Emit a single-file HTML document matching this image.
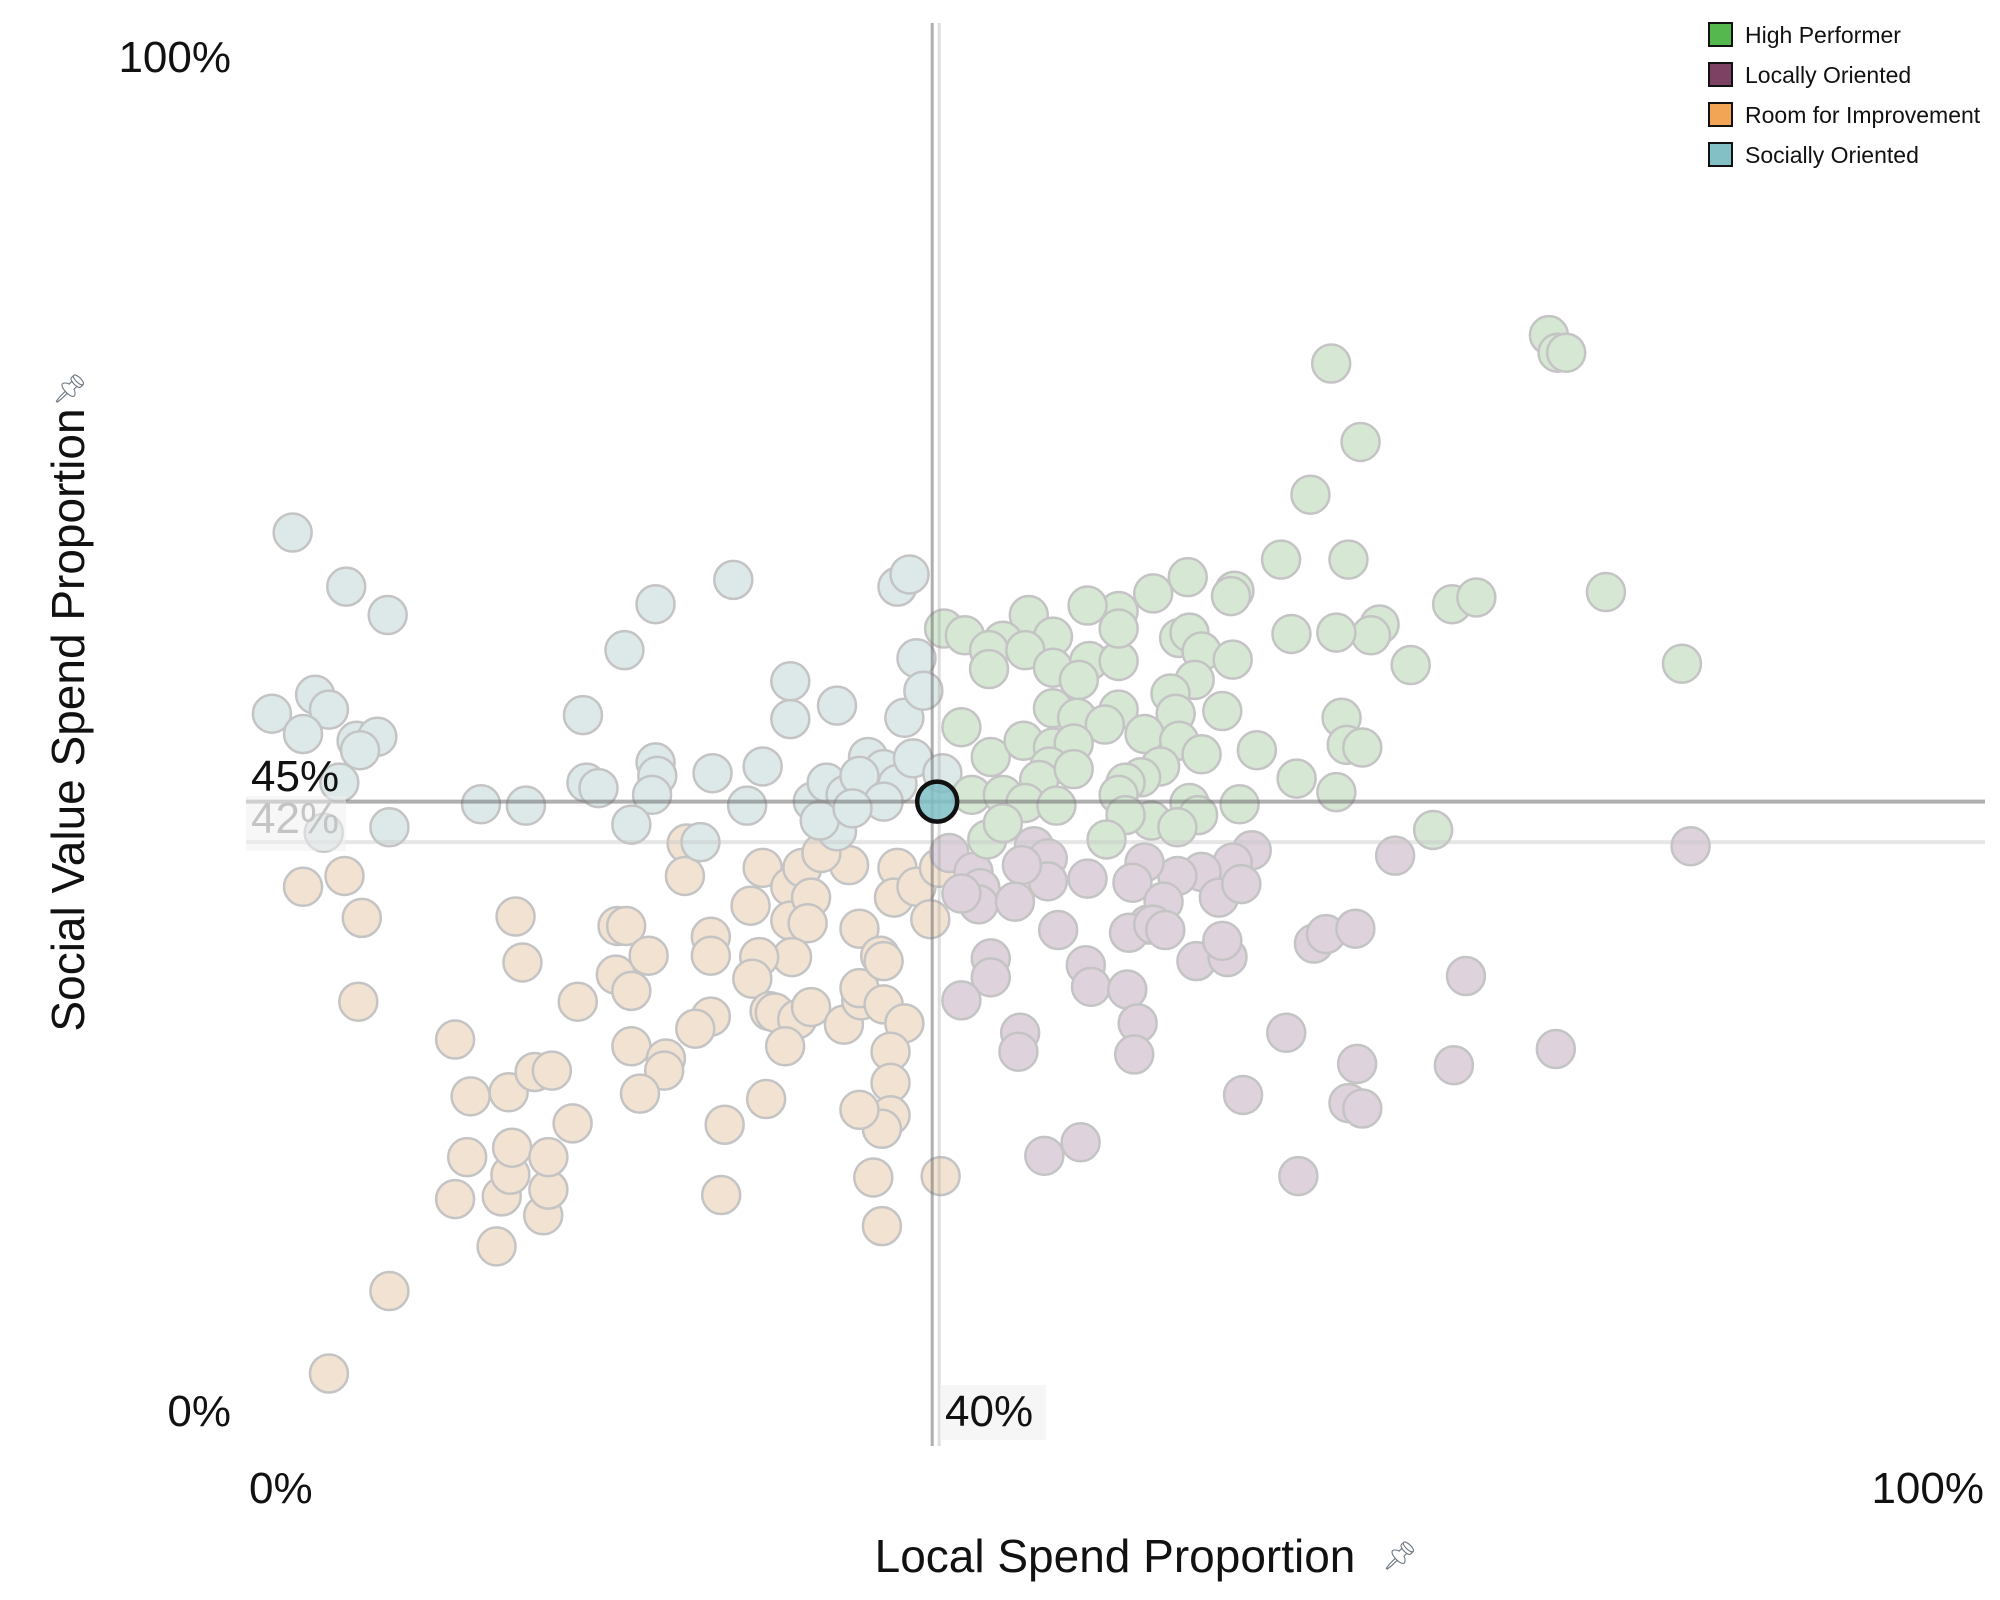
<!DOCTYPE html>
<html><head><meta charset="utf-8"><style>
html,body{margin:0;padding:0;background:#fff;}
svg{display:block;font-family:"Liberation Sans",sans-serif;}
</style></head><body>
<svg id="chart" width="2000" height="1600" viewBox="0 0 2000 1600" xmlns="http://www.w3.org/2000/svg">
<g id="points"></g>
<g id="refs"></g>
<g id="labels"></g>
<g>
  <rect x="1709" y="23" width="23" height="23" fill="#55b84f" stroke="#111" stroke-width="2"/>
  <text x="1745" y="43" font-size="23" fill="#111">High Performer</text>
  <rect x="1709" y="63" width="23" height="23" fill="#7c4163" stroke="#111" stroke-width="2"/>
  <text x="1745" y="83" font-size="23" fill="#111">Locally Oriented</text>
  <rect x="1709" y="103" width="23" height="23" fill="#f2a555" stroke="#111" stroke-width="2"/>
  <text x="1745" y="123" font-size="23" fill="#111">Room for Improvement</text>
  <rect x="1709" y="143" width="23" height="23" fill="#82c0c6" stroke="#111" stroke-width="2"/>
  <text x="1745" y="163" font-size="23" fill="#111">Socially Oriented</text>
</g>
<text x="1115" y="1572" font-size="46" text-anchor="middle" fill="#111">Local Spend Proportion</text>
<text x="1382" y="1565" font-size="28" fill="#6b7580">&#x1F4CC;&#xFE0E;</text>
<text transform="translate(84,720) rotate(-90)" font-size="46" text-anchor="middle" fill="#111">Social Value Spend Proportion</text>
<text x="52" y="398" font-size="28" fill="#6b7580">&#x1F4CC;&#xFE0E;</text>
</svg>
<script>
const socialX=[2.7,5.8,8.2,1.5,4.0,4.8,3.3,6.4,7.6,6.6,5.4,4.5,8.3,13.6,16.2,19.5,19.7,20.4,21.9,23.7,23.7,23.8,23.5,22.3,27.0,28.2,29.0,29.9,31.5,31.5,34.2,32.8,33.6,34.7,36.0,36.9,35.5,37.7,38.6,38.1,37.7,38.4,38.8,39.2,40.3,26.3,34.2,33.2,36.9,35.1];
const socialY=[64.9,60.9,58.8,51.5,52.9,51.8,50.0,49.5,49.8,48.8,46.4,42.7,43.1,44.8,44.7,51.4,46.4,46.0,56.2,59.6,47.9,46.9,45.5,43.3,47.1,61.4,44.7,47.6,53.9,51.1,52.1,45.0,46.4,45.5,48.3,47.4,46.9,46.3,48.2,51.2,60.9,61.8,55.6,53.2,47.1,42.0,42.8,43.6,45.0,44.5];
const highX=[75.4,75.9,76.4,62.8,64.5,61.6,59.9,63.8,54.5,57.2,57.0,52.5,50.5,48.7,45.3,78.7,69.8,71.2,65.6,65.1,63.1,60.5,67.4,83.1,40.4,41.6,43.8,46.7,43.0,45.1,43.0,46.7,48.8,50.5,50.5,54.0,54.6,55.3,57.1,54.9,53.5,48.2,46.7,48.1,50.5,49.7,53.8,56.5,63.4,41.4,43.1,45.0,46.7,47.9,46.5,45.9,47.9,52.0,54.0,55.3,58.5,63.7,64.6,52.9,51.8,50.9,60.8,63.1,42.0,43.8,45.1,46.9,50.5,54.6,57.5,52.4,50.9,49.8,42.9,43.8,68.7,55.1,53.9];
const highY=[79.5,78.2,78.2,77.4,71.6,67.7,62.9,62.9,61.6,60.6,60.2,60.4,59.1,59.5,58.8,60.5,59.6,60.1,58.1,57.3,57.5,57.4,55.1,55.2,57.8,57.3,56.9,57.2,56.2,56.2,54.8,54.9,55.4,55.4,57.8,57.1,57.5,56.1,55.5,54.0,53.0,54.0,51.9,51.2,51.8,50.7,51.5,51.7,51.2,50.5,48.3,49.5,49.0,49.3,47.6,46.6,47.4,50.0,49.5,48.5,48.8,49.2,49.0,47.6,46.8,46.4,46.7,45.7,45.5,45.5,44.9,44.7,45.5,44.9,44.8,43.6,44.0,42.2,42.2,43.4,42.9,44.0,43.1];
const localX=[83.6,66.5,58.2,57.1,55.3,53.9,52.0,51.3,48.7,45.6,46.4,46.4,44.9,40.7,42.1,42.5,42.4,44.5,41.4,52.2,51.1,53.1,52.5,56.3,57.6,53.2,47.0,43.1,43.1,48.6,48.9,51.0,51.6,51.4,55.0,56.8,56.5,61.8,62.5,64.2,70.6,41.4,44.8,44.7,60.2,64.3,69.9,75.8,57.7,63.8,64.6,46.2,48.3,60.9];
const localY=[41.7,41.0,41.4,40.5,39.8,39.5,40.5,39.0,39.3,41.7,40.8,39.1,40.3,41.2,39.8,38.6,37.4,37.6,38.2,35.9,35.3,37.6,35.9,37.9,38.9,35.5,35.5,33.4,32.0,32.9,31.3,31.1,28.6,26.3,33.2,33.5,34.7,34.5,35.2,35.6,32.1,30.3,27.9,26.5,27.9,25.6,25.5,26.7,23.3,22.7,22.3,18.8,19.8,17.3];
const roomX=[4.8,8.3,3.3,5.7,6.7,6.5,12.1,13.0,12.8,12.1,14.5,14.8,15.3,15.4,17.2,17.5,17.5,15.2,16.7,17.7,18.9,15.6,16.0,19.2,21.5,22.0,21.4,22.3,23.3,22.3,24.3,24.2,22.8,25.5,25.4,26.9,26.9,26.9,26.0,27.7,27.5,30.1,29.9,29.2,31.5,31.5,32.2,32.7,32.5,31.6,29.7,29.3,30.3,30.6,31.9,32.7,31.2,34.6,35.6,35.5,36.9,38.1,37.3,37.3,37.3,36.8,35.5,36.3,36.8,40.2,34.9,35.5,36.7,36.9,33.3,37.7,37.5,38.8,39.6,40.1];
const roomY=[2.7,8.8,38.7,39.5,36.4,30.2,27.4,23.2,18.7,15.6,12.1,15.8,17.4,19.4,14.4,16.3,18.7,23.5,25.0,25.1,21.2,36.5,33.1,30.2,35.8,35.8,32.2,31.0,33.6,26.9,26.0,25.1,23.4,41.9,39.5,35.0,33.6,29.1,28.2,21.1,15.9,23.0,40.1,37.3,38.7,36.2,40.1,37.9,36.0,33.5,33.5,31.9,29.5,29.4,28.9,29.8,26.9,28.5,30.3,31.2,30.0,28.6,26.5,24.2,21.8,20.8,22.2,17.2,13.6,17.3,40.3,35.6,33.6,33.2,41.2,40.1,37.9,38.7,36.3,40.1];
const selectedX=[40];
const selectedY=[45];
const refX=[40];
const refY=[45,42];
const xTicks=["0%","100%"];
const yTicks=["100%","0%"];

const NS="http://www.w3.org/2000/svg";
const X0=246,X1=1974,Y0=1410,Y1=58;
function sx(v){return X0+(X1-X0)*v/100;}
function sy(v){return Y0-(Y0-Y1)*v/100;}
function mk(tag,attrs,parent){const e=document.createElementNS(NS,tag);for(const k in attrs)e.setAttribute(k,attrs[k]);parent.appendChild(e);return e;}
const pts=document.getElementById('points');
function series(xs,ys,fill,name){
  for(let i=0;i<xs.length;i++){
    const c=mk('circle',{cx:sx(xs[i]),cy:sy(ys[i]),r:19,fill:fill,stroke:'#c4c4c4','stroke-width':2.5},pts);
    
    
  }
}
series(roomX,roomY,'#f2e2d2','room-for-improvement');
series(localX,localY,'#ded2dc','locally-oriented');
series(socialX,socialY,'#dde9e9','socially-oriented');
series(highX,highY,'#d6e7d4','high-performer');

const refs=document.getElementById('refs');
let l=mk('line',{x1:X0,x2:1985,y1:sy(refY[1]),y2:sy(refY[1]),stroke:'rgba(200,200,200,0.45)','stroke-width':4},refs);


l=mk('line',{x1:X0,x2:1985,y1:sy(refY[0]),y2:sy(refY[0]),stroke:'rgba(110,110,110,0.55)','stroke-width':4},refs);


l=mk('line',{x1:sx(refX[0])-5,x2:sx(refX[0])-5,y1:23,y2:1446,stroke:'rgba(110,110,110,0.55)','stroke-width':3},refs);


l=mk('line',{x1:sx(refX[0])+2,x2:sx(refX[0])+2,y1:23,y2:1446,stroke:'rgba(160,160,160,0.35)','stroke-width':3},refs);


const sel=mk('circle',{cx:sx(selectedX[0]),cy:sy(selectedY[0]),r:20,fill:'rgba(127,192,198,0.85)',stroke:'#111','stroke-width':4.5},refs);



const lab=document.getElementById('labels');
function txt(s,x,y,size,anchor,fill,name){const t=mk('text',{x:x,y:y,'font-size':size,'text-anchor':anchor,fill:fill},lab);t.textContent=s;
  
  return t;}
txt(yTicks[0],231,72,44,'end','#111','y-tick-100');
txt(yTicks[1],231,1426,44,'end','#111','y-tick-0');
txt(xTicks[0],249,1503,44,'start','#111','x-tick-0');
txt(xTicks[1],1984,1503,44,'end','#111','x-tick-100');
let bg=mk('rect',{x:246,y:796,width:100,height:55,fill:'rgba(240,240,240,0.5)'},lab);


txt(refY[1]+'%',251,833,44,'start','#c4c4c4','ref-label-42');
txt(refY[0]+'%',251,791,44,'start','#111','ref-label-45');
bg=mk('rect',{x:940,y:1385,width:106,height:55,fill:'rgba(240,240,240,0.6)'},lab);


txt(refX[0]+'%',945,1426,44,'start','#111','ref-label-40');
</script>
</body></html>
